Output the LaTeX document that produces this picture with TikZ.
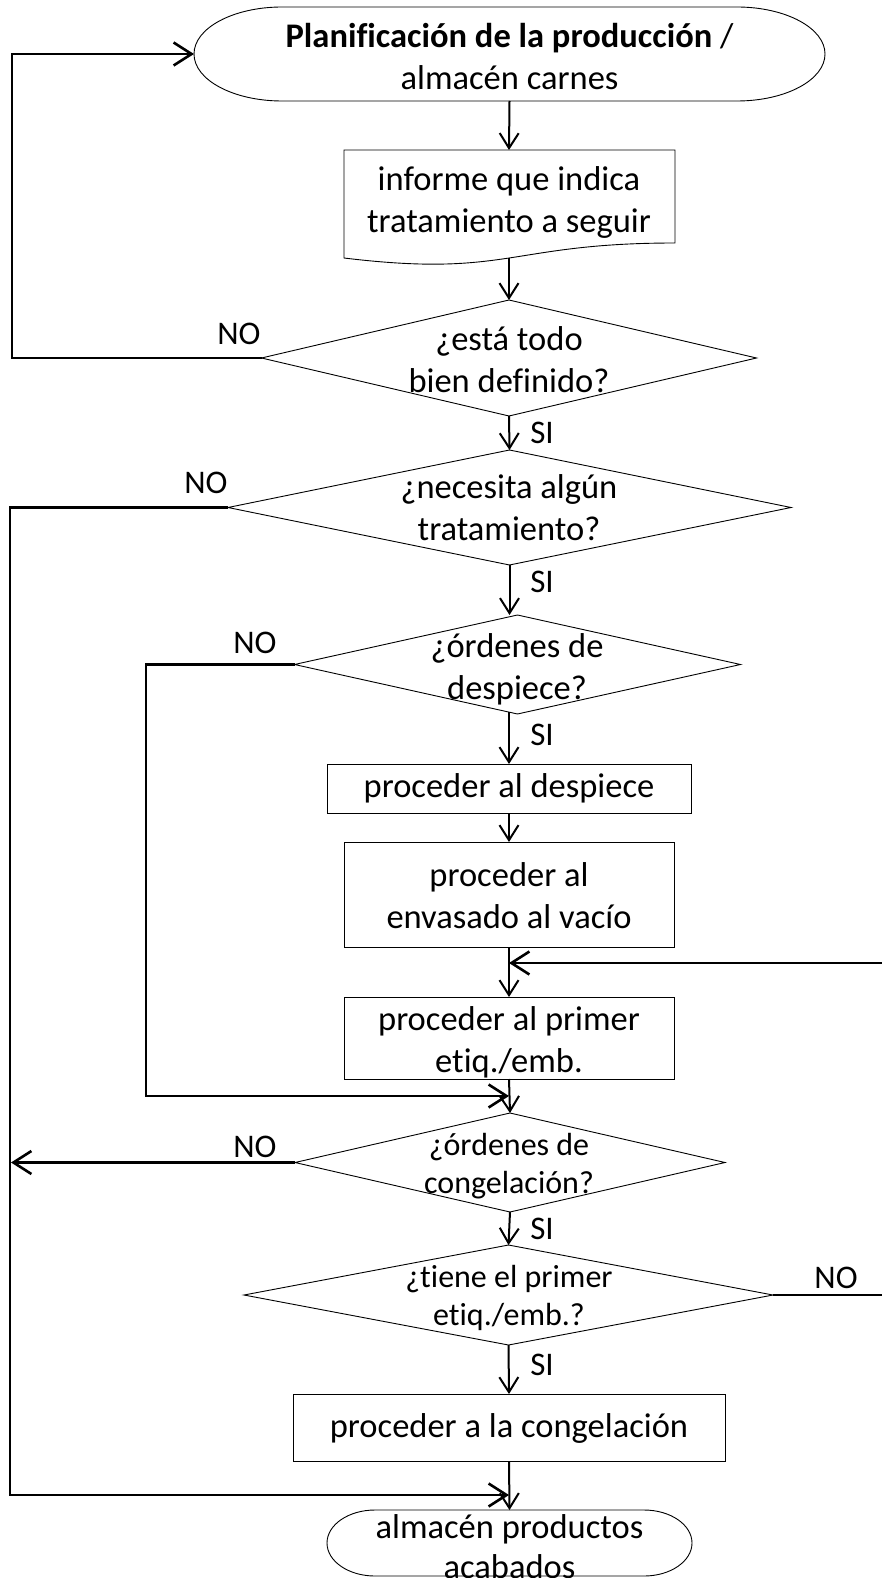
\documentclass[tikz,border=0pt]{standalone}
\usepackage{fontspec}
\setmainfont{Carlito}[Ligatures=NoCommon]
\usetikzlibrary{arrows.meta,shapes.geometric}

\begin{document}
\begin{tikzpicture}[x=1pt,y=-1pt,
  every node/.style={inner sep=0pt,outer sep=0pt},
  txt/.style={align=center,font=\fontsize{34.5}{42}\selectfont},
  txts/.style={align=center,font=\fontsize{32}{38.5}\selectfont},
  lbl/.style={font=\fontsize{33}{40}\selectfont},
  shapeline/.style={draw,line width=0.9pt},
  box/.style={rectangle,draw,line width=0.9pt},
  dia/.style={diamond,draw,line width=0.9pt},
  frame/.style={rectangle},
  flow/.style={line width=2pt,-{Straight Barb[length=15pt,width=19pt]}},
  looparrow/.style={line width=2.6pt,-{Straight Barb[length=18pt,width=23pt]}},
]
\useasboundingbox (0,0) rectangle (881,1578);
\fill[white] (0,0) rectangle (881,1578);

% ---- start terminator
\node[frame,minimum width=631pt,minimum height=94pt] (t1) at (509.5,54) {};
\draw[shapeline] ([xshift=88pt]t1.north west) -- ([xshift=-88pt]t1.north east)
  arc[start angle=90,end angle=-90,x radius=88pt,y radius=47pt]
  -- ([xshift=88pt]t1.south west)
  arc[start angle=270,end angle=90,x radius=88pt,y radius=47pt] -- cycle;
\node[txt] (t1t) at (509.5,56.5) {\textbf{Planificación de la producción} /\\almacén carnes};

% ---- document shape
\node[frame,minimum width=331pt,minimum height=116pt] (doc) at (509,208) {};
\draw[shapeline] (344,150) -- (675,150) -- (675,243)
  .. controls (509,243) and (509,278) .. (344,258) -- cycle;
\coordinate (docb) at (509,258);
\node[txt] (doct) at (509,202) {informe que indica\\tratamiento a seguir};

% ---- decisions and steps
\node[dia,minimum width=495pt,minimum height=116pt] (d1) at (509,358) {};
\node[txt] (d1t) at (509,360) {¿está todo\\bien definido?};

\node[dia,minimum width=563pt,minimum height=115pt] (d2) at (509.5,507.5) {};
\node[txt] (d2t) at (509,508) {¿necesita algún\\tratamiento?};

\node[dia,minimum width=446pt,minimum height=99pt] (d3) at (517.5,664.5) {};
\node[txt] (d3t) at (517,669) {¿órdenes de\\despiece?};

\node[box,minimum width=364pt,minimum height=49pt] (p1) at (509,788.5) {};
\node[txt] (p1t) at (509,788) {proceder al despiece};

\node[box,minimum width=330pt,minimum height=105pt] (p2) at (509,894.5) {};
\node[txt] (p2t) at (509,896) {proceder al\\envasado al vacío};

\node[box,minimum width=330pt,minimum height=82pt] (p3) at (509,1038) {};
\node[txt] (p3t) at (509,1042) {proceder al primer\\etiq./emb.};

\node[dia,minimum width=430pt,minimum height=99pt] (d4) at (510,1162.5) {};
\node[txts] (d4t) at (509,1166) {¿órdenes de\\congelación?};

\node[dia,minimum width=529pt,minimum height=100pt] (d5) at (508.5,1295) {};
\node[txts] (d5t) at (509,1298) {¿tiene el primer\\etiq./emb.?};

\node[box,minimum width=432pt,minimum height=67pt] (p4) at (509,1427.5) {};
\node[txt] (p4t) at (509,1428) {proceder a la congelación};

% ---- end terminator
\node[frame,minimum width=365pt,minimum height=66pt] (t2) at (509.5,1543) {};
\draw[shapeline] ([xshift=48pt]t2.north west) -- ([xshift=-48pt]t2.north east)
  arc[start angle=90,end angle=-90,x radius=48pt,y radius=33pt]
  -- ([xshift=48pt]t2.south west)
  arc[start angle=270,end angle=90,x radius=48pt,y radius=33pt] -- cycle;
\node[txt,font=\fontsize{34.5}{40}\selectfont] (t2t) at (509.5,1547) {almacén productos\\acabados};

% ---- main flow
\draw[flow] (t1.south) -- (doc.north);
\draw[flow] (docb) -- (d1.north);
\draw[flow] (d1.south) -- (d2.north);
\draw[flow] (d2.south) -- (d2.south |- d3.north);
\draw[flow] ([yshift=2pt]d3.south -| p1.north) -- (p1.north);
\draw[flow] (p1.south) -- (p2.north);
\draw[flow] (p2.south) -- (p3.north);
\draw[flow] (p3.south) -- (d4.north);
\draw[flow] (d4.south) -- (d5.north);
\draw[flow] (d5.south) -- (p4.north);
\draw[flow] (p4.south) -- (t2.north);

% ---- return and bypass lines
\coordinate (lx1) at (12,0);
\coordinate (lx2) at (10,0);
\coordinate (lx3) at (146,0);
\coordinate (rx) at (900,0);
\coordinate (j2) at (509,1495);
\coordinate (j3) at (509,1096);
\coordinate (j5) at (509,963);

\draw[looparrow] (d1.west) -- (d1.west -| lx1) |- (t1.west);
\draw[looparrow] (d2.west) -- (d2.west -| lx2) |- (j2);
\draw[looparrow] (d3.west) -- (d3.west -| lx3) |- (j3);
\draw[looparrow] (d4.west) -- ([xshift=1pt]d4.west -| lx2);
\draw[looparrow] (d5.east) -- (d5.east -| rx) |- (j5);

% ---- branch labels
\node[lbl] (no1) at (239,334) {NO};
\node[lbl] (si1) at (542,433) {SI};
\node[lbl] (no2) at (206,483) {NO};
\node[lbl] (si2) at (542,582) {SI};
\node[lbl] (no3) at (255,643) {NO};
\node[lbl] (si3) at (542,735) {SI};
\node[lbl] (no4) at (255,1147) {NO};
\node[lbl] (si4) at (542,1229) {SI};
\node[lbl] (no5) at (836,1278) {NO};
\node[lbl] (si5) at (542,1365) {SI};
\end{tikzpicture}
\end{document}
